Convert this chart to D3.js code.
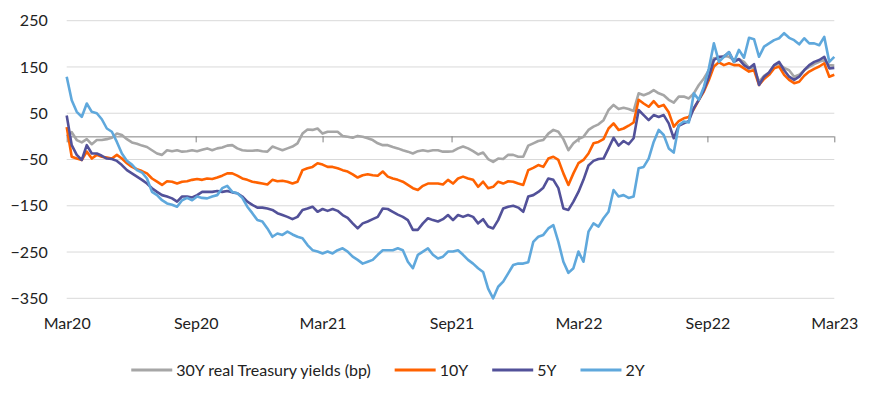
<!DOCTYPE html>
<html><head><meta charset="utf-8">
<script src="https://cdn.jsdelivr.net/npm/d3@7"></script>
<style>
body{margin:0;background:#fff;}
text{font-family:Lato,"Open Sans",sans-serif;fill:#222;}
</style>
</head><body>
<svg id="c" width="881" height="403"></svg>
<script>
// ---- data (bp) ----
const seriesNames = ["30Y real Treasury yields (bp)", "10Y", "5Y", "2Y"];
const seriesColors = ["#A6A6A6", "#FF6200", "#525199", "#5FA8DC"];
const tickLabels = ["Mar20","Sep20","Mar21","Sep21","Mar22","Sep22","Mar23"];
const tickDates = ["2020-03-01","2020-09-01","2021-03-01","2021-09-01","2022-03-01","2022-09-01","2023-03-01"];
const yTicks = [250,150,50,-50,-150,-250,-350];
const startDate = "2020-03-01", endDate = "2023-03-01";

const y30 = [0,9,-8,-13,-6,-17,-8,-8,-6,-3,6,3,-6,-13,-16,-20,-23,-30,-37,-40,-30,-32,-30,-33,-32,-30,-32,-29,-26,-30,-26,-24,-20,-19,-26,-30,-31,-31,-30,
 -32,-33,-22,-26,-30,-26,-22,-15,6,15,14,17,6,10,10,10,1,-1,-3,1,-1,-4,-8,-15,-19,-19,-23,-26,-30,-33,-37,-32,-30,-32,-30,-30,-33,-33,
 -32,-26,-22,-26,-32,-39,-35,-49,-55,-48,-49,-40,-40,-44,-44,-20,-15,-10,-8,6,14,10,-6,-30,-15,-6,-1,14,21,26,35,57,68,59,62,59,55,93,
 89,93,100,93,89,79,73,86,86,82,93,111,125,143,169,170,174,172,165,167,161,148,147,118,131,138,153,157,148,143,129,133,143,150,156,161,165,154,153];
const y10 = [20,-44,-48,-51,-33,-48,-40,-44,-46,-48,-40,-48,-58,-66,-71,-75,-80,-91,-98,-105,-97,-98,-102,-98,-97,-94,-92,-94,-91,-92,-89,-85,-80,-80,-85,-91,-94,-98,-100,
 -102,-104,-94,-97,-96,-98,-102,-98,-73,-69,-66,-58,-61,-66,-66,-69,-73,-76,-82,-89,-84,-82,-84,-85,-76,-87,-91,-94,-98,-105,-112,-116,-107,-102,-102,-102,-104,-94,
 -102,-91,-87,-91,-94,-109,-98,-112,-109,-98,-102,-97,-98,-102,-105,-73,-68,-62,-66,-48,-44,-51,-80,-105,-80,-58,-51,-37,-15,-12,-6,17,28,14,17,23,30,79,
 71,64,76,64,68,52,21,33,39,42,59,79,97,122,151,160,154,158,154,154,147,140,143,111,124,133,147,151,133,122,115,118,131,140,146,151,158,129,133];
const y5 = [45,-19,-40,-51,-19,-37,-37,-42,-48,-49,-53,-62,-73,-80,-87,-94,-102,-112,-120,-127,-130,-134,-141,-130,-130,-132,-127,-120,-120,-120,-118,-120,-118,-121,-123,-130,-141,-148,-154,
 -154,-156,-159,-166,-170,-174,-179,-174,-159,-156,-152,-163,-157,-161,-157,-161,-170,-176,-188,-199,-188,-184,-179,-174,-156,-157,-163,-169,-174,-181,-202,-202,-188,-177,-181,-184,-179,-170,
 -181,-170,-174,-170,-174,-188,-179,-195,-199,-181,-156,-152,-150,-154,-163,-130,-127,-120,-111,-91,-94,-112,-156,-159,-141,-120,-94,-63,-53,-49,-48,-26,-3,-20,-10,-17,-4,57,
 46,35,46,42,46,28,-4,23,28,33,61,79,100,129,165,172,172,182,161,167,154,147,156,111,129,138,154,161,143,129,122,129,143,154,161,165,172,147,148];
const y2 = [129,78,53,42,71,53,50,37,17,10,-12,-37,-53,-61,-73,-78,-91,-120,-127,-138,-145,-148,-152,-138,-133,-138,-130,-133,-134,-130,-127,-112,-107,-120,-123,-133,-152,-166,-181,
 -184,-199,-217,-210,-213,-206,-212,-217,-220,-235,-246,-249,-253,-249,-253,-246,-242,-249,-260,-267,-275,-271,-267,-256,-246,-246,-246,-242,-246,-271,-285,-256,-249,-242,-256,-264,-260,-249,
 -249,-246,-256,-267,-275,-285,-293,-329,-350,-325,-314,-296,-278,-275,-275,-272,-228,-217,-213,-199,-192,-228,-271,-295,-285,-249,-271,-206,-188,-195,-177,-163,-116,-130,-127,-133,-130,-69,
 -66,-48,-12,14,3,-26,-35,24,32,30,93,79,107,147,201,161,172,182,161,187,170,213,210,172,194,201,208,212,223,213,208,199,212,201,201,197,215,161,172];

const seriesValues = [y30, y10, y5, y2];

// ---- chart ----
(function () {
const svg = d3.select("#c");
const mL = 66.7, mR = 834.3, mT = 20.7, mB = 298.3;
const fs = "16px";
const parse = d3.timeParse("%Y-%m-%d");
const t0 = parse(startDate), t1 = parse(endDate);
const n = y30.length;
const dates = d3.range(n).map(i => new Date(+t0 + i * (t1 - t0) / (n - 1)));

const x = d3.scaleTime().domain([t0, t1]).range([mL, mR]);
const y = d3.scaleLinear().domain([-350, 250]).range([mB, mT]);

// gridlines
svg.append("g").selectAll("line").data(yTicks).join("line")
  .attr("x1", mL).attr("x2", mR)
  .attr("y1", d => y(d)).attr("y2", d => y(d))
  .attr("stroke", "#D9D9D9").attr("stroke-width", 1);

// y labels
const yAxis = svg.append("g").attr("transform", `translate(${mL},0)`)
  .call(d3.axisLeft(y).tickValues(yTicks).tickSize(0).tickPadding(19));
yAxis.select(".domain").remove();
yAxis.selectAll("text").style("font-size", fs).attr("fill", "#222");

// x labels
const tDates = tickDates.map(parse);
const xAxis = svg.append("g").attr("transform", `translate(0,${mB})`)
  .call(d3.axisBottom(x).tickValues(tDates).tickSize(0).tickPadding(19)
    .tickFormat((d, i) => tickLabels[i]));
xAxis.select(".domain").remove();
xAxis.selectAll("text").style("font-size", fs).attr("fill", "#222");

// zero axis with tick marks
const zAxis = svg.append("g").attr("transform", `translate(0,${y(0)})`)
  .call(d3.axisBottom(x).tickValues(tDates).tickSize(6).tickFormat(""));
zAxis.select(".domain").attr("stroke", "#808080").attr("d", `M${mL},0.5H${mR}`);
zAxis.selectAll(".tick line").attr("stroke", "#808080");

// lines
const line = d3.line().x((d, i) => x(dates[i])).y(d => y(d));
svg.append("g").selectAll("path").data(seriesValues).join("path")
  .attr("d", d => line(d))
  .attr("fill", "none")
  .attr("stroke", (d, i) => seriesColors[i])
  .attr("stroke-width", 2.6)
  .attr("stroke-linejoin", "round");

// legend
const lg = svg.append("g");
const items = lg.selectAll("g").data(seriesNames).join("g");
items.append("line").attr("x1", 0).attr("x2", 41).attr("y1", 0).attr("y2", 0)
  .attr("stroke", (d, i) => seriesColors[i]).attr("stroke-width", 3);
items.append("text").attr("x", 45).attr("y", 0).attr("dy", "0.35em")
  .style("font-size", fs).text(d => d);
let cx = 0;
items.each(function () {
  const w = d3.select(this).select("text").node().getComputedTextLength();
  d3.select(this).attr("transform", `translate(${cx},370)`);
  cx += 45 + w + 24;
});
const total = cx - 24;
lg.attr("transform", `translate(${388 - total / 2},0)`);
})();
</script>
</body></html>
